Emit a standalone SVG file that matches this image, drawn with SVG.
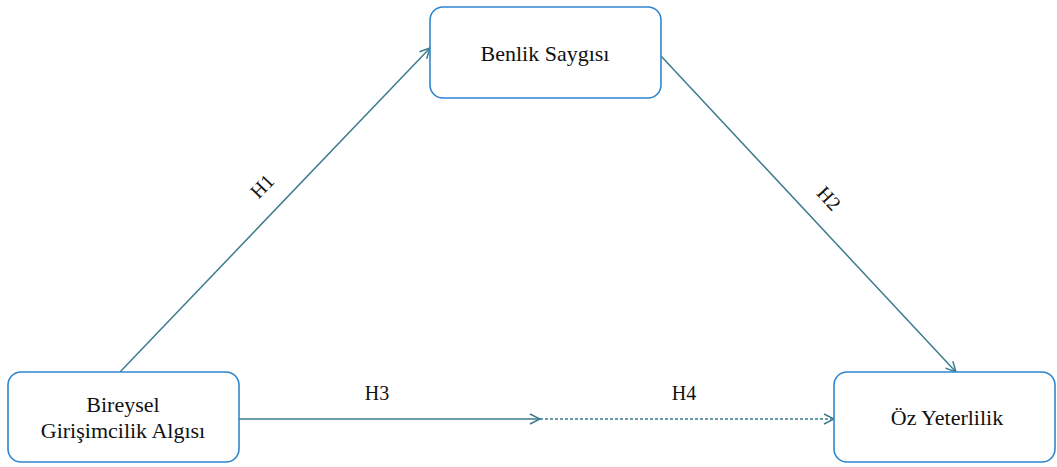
<svg xmlns="http://www.w3.org/2000/svg" width="1057" height="467" viewBox="0 0 1057 467">
<style>
.box{fill:#fff;stroke:#2F86CF;stroke-width:1.6}
.t{font-family:"Liberation Serif","Times New Roman",serif;font-size:22px;fill:#111;text-anchor:middle}
.h{font-size:20px}
.c{fill:none;stroke:#3E7B8D;stroke-width:1.5}
.d{stroke-dasharray:3 2}
</style>
<defs>
<marker id="a" viewBox="0 0 12 12" refX="11" refY="6" markerWidth="12" markerHeight="12" markerUnits="userSpaceOnUse" orient="auto">
<path d="M1,1 L11,6 L1,11" fill="none" stroke="#3E7B8D" stroke-width="1.5"/>
</marker>
</defs>
<g id="connectors">
<path class="c" d="M120,372 L430,48" marker-end="url(#a)"/>
<path class="c" d="M661,56 L956,372" marker-end="url(#a)"/>
<path class="c" d="M239,419 L540,419" marker-end="url(#a)"/>
<path class="c d" d="M540,419 L834,419" marker-end="url(#a)"/>
<text class="t h" transform="translate(267,191) rotate(-46)">H1</text>
<text class="t h" transform="translate(824,203) rotate(47)">H2</text>
<text class="t h" x="377" y="400">H3</text>
<text class="t h" x="684" y="400">H4</text>
</g>
<g id="benlik">
<rect class="box" x="430" y="7" width="231" height="91" rx="13"/>
<text class="t" x="545" y="61">Benlik Saygısı</text>
</g>
<g id="bireysel">
<rect class="box" x="8" y="372" width="231" height="90" rx="13"/>
<text class="t" x="123" y="412">Bireysel</text>
<text class="t" x="123" y="438">Girişimcilik Algısı</text>
</g>
<g id="oz">
<rect class="box" x="834" y="372" width="221" height="90" rx="13"/>
<text class="t" x="947" y="425">Öz Yeterlilik</text>
</g>
</svg>
